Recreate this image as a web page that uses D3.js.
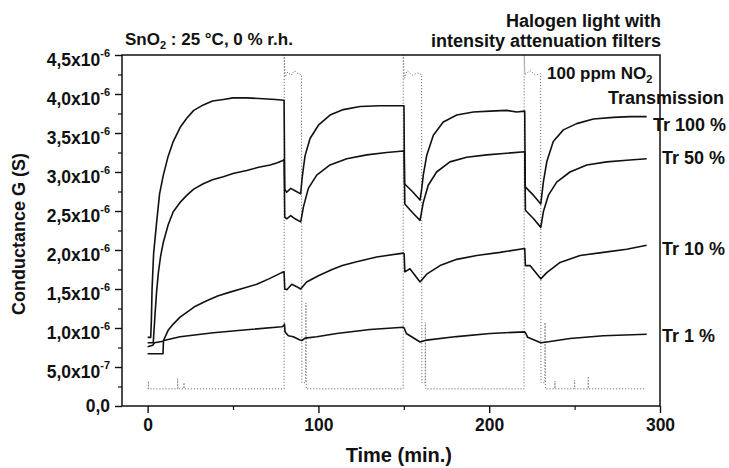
<!DOCTYPE html>
<html>
<head>
<meta charset="utf-8">
<script src="https://cdn.jsdelivr.net/npm/d3@7"></script>
<style>
body { margin: 0; background: #fff; }
text { font-family: 'Liberation Sans', Arial, sans-serif; font-weight: bold; fill: #111; }
</style>
</head>
<body>
<script>
// conductance in 10^-6 S against time in min
var tr100 = [[0,0.88],[1.8,0.88],[2.2,1.1],[2.6,1.5],[3.5,1.95],[5.3,2.36],[7,2.72],[9.2,2.96],[12,3.2],[15,3.39],[19,3.57],[22.9,3.69],[27,3.79],[32.6,3.86],[38,3.91],[44.3,3.93],[50,3.95],[58,3.95],[67.8,3.94],[75,3.93],[79.5,3.92],[79.9,3.92],
  [80.3,2.78],[81.4,2.74],[83.8,2.79],[86.3,2.76],[89.6,2.72],[90.4,2.91],[91.2,3.05],[92.2,3.21],[95.1,3.43],[100,3.6],[106.8,3.73],[114.6,3.8],[124.4,3.84],[136,3.85],[149.7,3.85],[150.1,3.85],
  [150.4,2.85],[155,2.75],[159.5,2.64],[160.5,2.79],[161.4,2.96],[163.4,3.21],[167.3,3.47],[173.1,3.64],[181,3.73],[190.7,3.77],[200.5,3.78],[210.2,3.79],[216.1,3.77],[220.8,3.78],
  [221.1,2.81],[226,2.7],[230.2,2.59],[231.7,2.87],[233.7,3.13],[237.5,3.39],[243.4,3.54],[251.2,3.62],[261,3.68],[272.7,3.7],[282.4,3.71],[292.2,3.71]]

var tr50 = [[0,0.81],[3.3,0.81],[4.3,1.16],[5.2,1.45],[6.3,1.71],[7.6,1.92],[9.2,2.1],[12,2.32],[15,2.49],[19,2.61],[22.9,2.7],[27,2.78],[32.6,2.85],[38,2.9],[44.3,2.94],[50,2.98],[58,3.02],[65,3.06],[71.7,3.09],[76,3.12],[79.5,3.15],[79.9,3.16],
  [80.3,2.42],[81.4,2.4],[83.8,2.44],[86.3,2.4],[89.6,2.36],[90.4,2.45],[91.2,2.55],[94.1,2.79],[99,2.96],[106.8,3.09],[116.6,3.17],[128.3,3.22],[140,3.25],[149.7,3.27],[150.2,3.26],
  [150.6,2.59],[155,2.48],[159.5,2.38],[161.4,2.61],[164.3,2.83],[169.2,3],[177,3.13],[186.8,3.19],[198.5,3.22],[210.2,3.24],[220.8,3.26],
  [221.2,2.51],[226,2.4],[230.2,2.29],[231.7,2.49],[234.6,2.7],[239.5,2.87],[247.3,3],[257.1,3.09],[268.8,3.13],[280.5,3.15],[292.2,3.17]]

var tr10 = [[0,0.67],[9,0.67],[9.3,0.84],[12,0.97],[15,1.05],[19,1.14],[22.9,1.2],[28,1.28],[34.6,1.35],[41,1.41],[48.2,1.46],[56,1.51],[63.9,1.56],[71,1.63],[78.5,1.71],[79.9,1.72],
  [80.3,1.5],[81.5,1.49],[84.4,1.56],[87.3,1.53],[89.6,1.5],[93.1,1.59],[100,1.67],[108,1.75],[114,1.8],[122.4,1.85],[134.1,1.91],[149.7,1.96],[150.2,1.95],
  [150.6,1.72],[153.6,1.76],[159.5,1.59],[163.4,1.69],[171.2,1.8],[181,1.88],[192.7,1.93],[206.3,1.97],[220.8,2.02],
  [221.2,1.8],[223.9,1.8],[230.2,1.63],[233.7,1.71],[241.5,1.84],[253.2,1.93],[266.8,1.97],[280.5,2.01],[292.2,2.06]]

var tr1 = [[0,0.76],[3,0.78],[4,0.81],[9,0.83],[9.5,0.84],[19,0.887],[38.5,0.94],[58,0.977],[78.5,1.016],[79.8,1.03],[80.1,1.05],
  [80.5,0.95],[82.4,0.9],[85.3,0.887],[89.2,0.845],[90.3,0.84],[92.2,0.87],[99,0.887],[110.7,0.93],[130.2,0.98],[149.7,1.01],[150.2,1],
  [151.5,0.93],[159.5,0.82],[163.4,0.845],[181,0.89],[200.5,0.93],[220.8,0.95],
  [221.5,0.93],[222.5,0.88],[230.2,0.81],[233.7,0.82],[247.3,0.865],[266.8,0.9],[292.2,0.92]]

// NO2 gas pulse trace (dotted)
var gasTrace = [[0,0.22],[0.4,0.22],[0.5,0.32],[0.6,0.22],[17.4,0.22],[17.6,0.35],[17.8,0.22],[21.1,0.22],[21.3,0.3],[21.5,0.22],[79.9,0.22],
  [80,4.5],[80.5,4.22],[82,4.28],[84,4.24],[86,4.3],[88,4.26],[90.1,4.25],[90.3,0.3],[92.5,0.3],[92.7,1.32],[92.9,0.22],[149.6,0.22],
  [149.7,4.5],[150.3,4.2],[152,4.3],[155,4.24],[158,4.27],[160.4,4.25],[160.6,0.3],[162.5,0.3],[162.6,1.07],[162.8,0.22],[220.4,0.22],
  [220.5,4.5],[221,4.25],[224,4.3],[227,4.24],[230.1,4.26],[230.3,0.3],[232.6,0.3],[232.7,1.07],[232.9,0.22],
  [238.4,0.22],[238.5,0.32],[238.6,0.22],[249.9,0.22],[250,0.33],[250.1,0.22],[257.8,0.22],[258,0.38],[258.2,0.22],[290.7,0.22]]

var seriesNames = ['Tr 100 %', 'Tr 50 %', 'Tr 10 %', 'Tr 1 %']
var yTicks = [0, 0.5, 1, 1.5, 2, 2.5, 3, 3.5, 4, 4.5]
var xTicks = [0, 100, 200, 300]

var width = 729, height = 468
var margin = {left: 122, right: 69, top: 55, bottom: 62}
var w = width - margin.left - margin.right
var h = height - margin.top - margin.bottom

var x = d3.scaleLinear().domain([-15, 300]).range([0, w])
var y = d3.scaleLinear().domain([0, 4.5]).range([h, 0])

var svg = d3.select('body').append('svg').attr('width', width).attr('height', height)
var g = svg.append('g').attr('transform', `translate(${margin.left},${margin.top})`)

var line = d3.line().x(d => x(d[0])).y(d => y(d[1]))

// gas trace first so the curves sit on top
g.append('path').attr('d', line(gasTrace))
  .attr('fill', 'none').attr('stroke', '#777').attr('stroke-width', 1)
  .attr('stroke-dasharray', '1.2,1.8')

;[tr100, tr50, tr10, tr1].forEach(s => {
  g.append('path').attr('d', line(s))
    .attr('fill', 'none').attr('stroke', '#111').attr('stroke-width', 1.6)
    .attr('stroke-linejoin', 'round')
})

// y axis, labels like 4,5x10^-6
function yLabel(sel) {
  sel.each(function (v) {
    var t = d3.select(this).text(null)
    if (v === 0) { t.text('0,0'); return }
    var m = v < 1 ? v * 10 : v
    var e = v < 1 ? '-7' : '-6'
    t.attr('dy', '0.62em')
    t.append('tspan').text(d3.format('.1f')(m).replace('.', ',') + 'x10')
    t.append('tspan').attr('font-size', 11).attr('dy', -9).text(e)
  })
}

var yAx = g.append('g')
  .call(d3.axisLeft(y).tickValues(yTicks).tickSize(7).tickPadding(5))
yAx.select('.domain').remove()
yAx.selectAll('line').attr('stroke', '#111').attr('stroke-width', 1.4)
yAx.selectAll('text').attr('font-size', 17.5).attr('font-family', null).attr('dy', '0.32em')
  .call(yLabel)

var yMinor = g.append('g')
  .call(d3.axisLeft(y).tickValues(d3.range(0.25, 4.5, 0.5)).tickSize(4).tickFormat(''))
yMinor.select('.domain').remove()
yMinor.selectAll('line').attr('stroke', '#111').attr('stroke-width', 1.2)

// x axis
var xAx = g.append('g').attr('transform', `translate(0,${h})`)
  .call(d3.axisBottom(x).tickValues(xTicks).tickSize(7).tickPadding(6))
xAx.select('.domain').remove()
xAx.selectAll('line').attr('stroke', '#111').attr('stroke-width', 1.4)
xAx.selectAll('text').attr('font-size', 17.5).attr('font-family', null)

var xMinor = g.append('g').attr('transform', `translate(0,${h})`)
  .call(d3.axisBottom(x).tickValues([50, 150, 250]).tickSize(4).tickFormat(''))
xMinor.select('.domain').remove()
xMinor.selectAll('line').attr('stroke', '#111').attr('stroke-width', 1.2)

// frame
g.append('rect').attr('width', w).attr('height', h)
  .attr('fill', 'none').attr('stroke', '#111').attr('stroke-width', 1.5)

// axis titles
svg.append('text').attr('x', margin.left + x(0) + (x(300) - x(0)) / 2 - 5).attr('y', 462)
  .attr('text-anchor', 'middle').attr('font-size', 20).text('Time (min.)')
svg.append('text').attr('transform', 'translate(25,234) rotate(-90)')
  .attr('text-anchor', 'middle').attr('font-size', 18).text('Conductance G (S)')

// annotations
var title = svg.append('text').attr('x', 125).attr('y', 45).attr('font-size', 17)
title.append('tspan').text('SnO')
title.append('tspan').attr('font-size', 11).attr('dy', 4).text('2')
title.append('tspan').attr('dy', -4).text(' : 25 °C, 0 % r.h.')

svg.append('text').attr('x', 661).attr('y', 27).attr('text-anchor', 'end')
  .attr('font-size', 18).text('Halogen light with')
svg.append('text').attr('x', 661).attr('y', 47).attr('text-anchor', 'end')
  .attr('font-size', 18).text('intensity attenuation filters')

var no2 = svg.append('text').attr('x', 547).attr('y', 79).attr('font-size', 17)
no2.append('tspan').text('100 ppm NO')
no2.append('tspan').attr('font-size', 11).attr('dy', 4).text('2')

svg.append('text').attr('x', 724).attr('y', 104).attr('text-anchor', 'end')
  .attr('font-size', 18).text('Transmission')

var labelPos = [[653, 131], [662, 164], [662, 255], [662, 342]]
seriesNames.forEach((n, i) => {
  svg.append('text').attr('x', labelPos[i][0]).attr('y', labelPos[i][1])
    .attr('font-size', 18).text(n)
})
</script>
</body>
</html>
